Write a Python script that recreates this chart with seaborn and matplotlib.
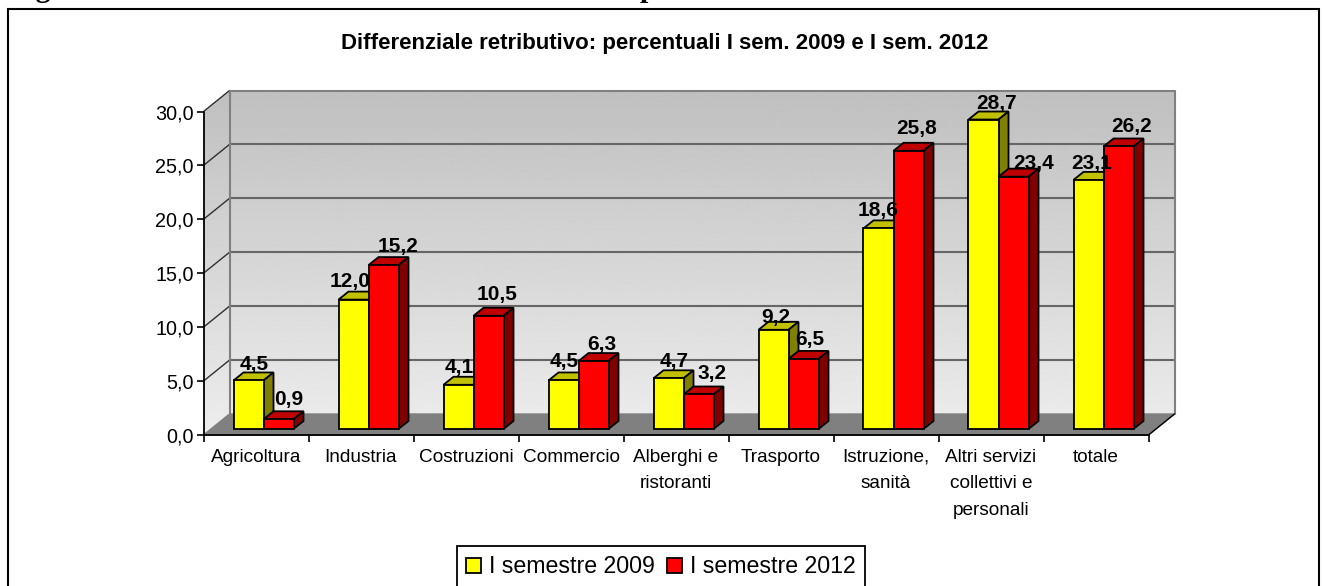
import numpy as np
import pandas as pd
import matplotlib
matplotlib.use("Agg")
import matplotlib.pyplot as plt
from matplotlib.patches import Polygon, Rectangle
from matplotlib.path import Path
from matplotlib.ticker import FixedLocator
import seaborn as sns

categories = ["Agricoltura", "Industria", "Costruzioni", "Commercio", "Alberghi e\nristoranti",
              "Trasporto", "Istruzione,\nsanità", "Altri servizi\ncollettivi e\npersonali", "totale"]
values_2009 = [4.5, 12.0, 4.1, 4.5, 4.7, 9.2, 18.6, 28.7, 23.1]
values_2012 = [0.9, 15.2, 10.5, 6.3, 3.2, 6.5, 25.8, 23.4, 26.2]
series_names = ["I semestre 2009", "I semestre 2012"]
y_ticks = [0, 5, 10, 15, 20, 25, 30]
title = "Differenziale retributivo: percentuali I sem. 2009 e I sem. 2012"

# hand-placed data label nudges in pixels, relative to each bar
label_shift_x = {0: [5.5, -3, 1, 1, 6, 2, 0, 13, 3], 1: [10, 15, 9, 8, 14, 6, 8, 20, 13]}
label_shift_y = {0: [9.5, 12.6, 11, 12.5, 11, 6, 11.5, 10, 10], 1: [14, 13, 15, 11, 14.5, 13, 16, 7, 13.5]}

W, H = 1322, 586
FONT = "Liberation Sans"
sns.set_theme(style="white")
plt.rcParams["font.family"] = [FONT, "DejaVu Sans"]
plt.rcParams["text.color"] = "black"
plt.rcParams["legend.labelcolor"] = "black"

fig = plt.figure(figsize=(W / 100, H / 100), dpi=100, facecolor="white")

def rect_px(l, t, r, b):
    return [l / W, 1 - b / H, (r - l) / W, (b - t) / H]

X0, X1, YB, YT = 203.5, 1148.5, 435, 111.5
ax = fig.add_axes(rect_px(X0, YT, X1, YB), zorder=1)
bx = fig.add_axes(rect_px(X0 + 7.5, YT - 6, X1 + 7.5, YB - 6), zorder=2)

n = len(categories)
ux = (X1 - X0) / n
uy = (YB - YT) / 30
ax.set_xlim(-0.5, n - 0.5)
ax.set_ylim(0, 30)
ax.patch.set_visible(False)

# walls of the 3D box
dx, dy = 26 / ux, 21 / uy
xa, xb, top = -0.5, n - 0.5, 30
hexagon = [(xa, 0), (xa + dx, dy), (xb + dx, dy), (xb + dx, top + dy), (xa + dx, top + dy), (xa, top)]
grad = np.linspace(0.75, 0.93, 256).reshape(-1, 1)
im = ax.imshow(grad, cmap="gray", vmin=0, vmax=1, aspect="auto", origin="upper",
               extent=(xa, xb + dx, 0, top + dy), zorder=0)
im.set_clip_box(fig.bbox)
im.set_clip_path(Path(hexagon + [hexagon[0]]), ax.transData)
ax.set_xlim(-0.5, n - 0.5)
ax.set_ylim(0, 30)
ax.add_patch(Polygon([(xa, 0), (xb, 0), (xb + dx, dy), (xa + dx, dy)], closed=True,
                     facecolor="#808080", edgecolor="#808080", lw=1, clip_on=False, zorder=1))
for t in y_ticks[1:]:
    ax.plot([xa + dx, xb + dx], [t + dy, t + dy], color="#666666" if t < 30 else "#808080",
            lw=1.5, clip_on=False, zorder=1)
    ax.plot([xa, xa + dx], [t, t + dy], color="#303030", lw=1, clip_on=False, zorder=1)
ax.plot([xa + dx, xa + dx], [dy, top + dy], color="#808080", lw=1.5, clip_on=False, zorder=1)
ax.plot([xb + dx, xb + dx], [dy, top + dy], color="#808080", lw=1.5, clip_on=False, zorder=1)
ax.plot([xb, xb + dx], [0, dy], color="black", lw=1, clip_on=False, zorder=1)

for s in ["top", "right"]:
    ax.spines[s].set_visible(False)
for s in ["left", "bottom"]:
    ax.spines[s].set_color("black")
    ax.spines[s].set_linewidth(1.3)
ax.set_yticks(y_ticks)
ax.set_yticklabels([f"{t:.1f}".replace(".", ",") for t in y_ticks], fontsize=14.2, color="black")
ax.set_xticks(range(n))
ax.set_xticklabels(categories, fontsize=13.7, color="black", linespacing=1.72, va="top")
ax.xaxis.set_minor_locator(FixedLocator(np.arange(-0.5, n, 1)))
ax.tick_params(axis="x", which="major", length=0, pad=10)
ax.tick_params(axis="x", which="minor", length=5, width=1.2, color="black", bottom=True)
ax.tick_params(axis="y", length=5, width=1.2, color="black", left=True, pad=2)

# bars
df = pd.DataFrame({
    "categoria": categories * 2,
    "valore": values_2009 + values_2012,
    "serie": [series_names[0]] * n + [series_names[1]] * n,
})
sns.barplot(data=df, x="categoria", y="valore", hue="serie", hue_order=series_names,
            palette=["#ffff00", "#ff0000"], width=60 / ux, gap=0, edgecolor="black",
            linewidth=1.3, saturation=1, ax=bx, errorbar=None)
bx.set_xlim(-0.5, n - 0.5)
bx.set_ylim(0, 30)
bx.set_xlabel("")
bx.set_ylabel("")
bx.patch.set_visible(False)
for s in bx.spines.values():
    s.set_visible(False)
bx.set_xticks([])
bx.set_yticks([])

ddx, ddy = 10 / ux, 8 / uy
rects = [p for p in bx.patches if isinstance(p, Rectangle)]
for p in rects:
    if p.get_height() <= 0:
        p.set_visible(False)
bars = sorted([p for p in rects if p.get_height() > 0], key=lambda p: p.get_x())
for i, p in enumerate(bars):
    x, w, h = p.get_x(), p.get_width(), p.get_height()
    red = i % 2
    topc, sidec = ("#c00000", "#800000") if red else ("#c0c000", "#808000")
    z = 3 + 2 * i
    p.set_zorder(z + 1)
    p.set_clip_on(False)
    bx.add_patch(Polygon([(x, h), (x + w, h), (x + w + ddx, h + ddy), (x + ddx, h + ddy)], closed=True,
                         facecolor=topc, edgecolor="black", lw=1.3, zorder=z, clip_on=False))
    bx.add_patch(Polygon([(x + w, 0), (x + w + ddx, ddy), (x + w + ddx, h + ddy), (x + w, h)], closed=True,
                         facecolor=sidec, edgecolor="black", lw=1.3, zorder=z, clip_on=False))
    bx.text(x + w / 2 + label_shift_x[red][i // 2] / ux, h + ddy + label_shift_y[red][i // 2] / uy,
            f"{h:.1f}".replace(".", ","), ha="center", va="center_baseline",
            fontsize=15, fontweight="bold", color="black", zorder=100, clip_on=False)

sns.move_legend(bx, loc="upper left", bbox_to_anchor=(457 / W, 1 - 546 / H), bbox_transform=fig.transFigure,
                ncol=2, title=None, frameon=True, fontsize=16.7, fancybox=False, framealpha=1,
                edgecolor="black", borderaxespad=0, borderpad=0.4, handlelength=0.62, handleheight=0.62,
                handletextpad=0.35, columnspacing=0.55)
leg = bx.get_legend()
leg.get_frame().set_linewidth(1.3)
for tx in leg.get_texts():
    tx.set_color("black")
for h_ in leg.get_patches():
    h_.set_edgecolor("black")
    h_.set_linewidth(1.3)

# title and page elements
fig.text(665 / W, 1 - 44 / H, title, ha="center", va="center", fontsize=16, fontweight="bold", color="black")
fig.add_artist(Rectangle((7.5 / W, -0.1), (1319 - 7.5) / W, 1.1 - 8.5 / H, transform=fig.transFigure,
                         facecolor="none", edgecolor="black", lw=1.5, zorder=0))
fig.text(9 / W, 1 + 3 / H, "Fig", family="Liberation Serif", fontweight="bold", fontsize=21.5, va="baseline", color="black")
fig.text(640 / W, 1 + 3 / H, "p", family="Liberation Serif", fontweight="bold", fontsize=21.5, va="baseline", color="black")

fig.savefig("out.png", dpi=100)
